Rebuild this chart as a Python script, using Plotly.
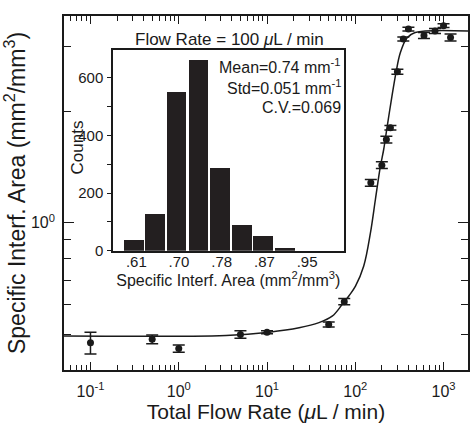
import plotly.graph_objects as go

# ---------------- data: main plot ----------------
flow_rate = [0.1, 0.5, 1, 5, 10, 50, 75, 150, 200, 225, 250, 300, 350, 400, 600, 800, 1000, 1200]
area = [0.474, 0.484, 0.457, 0.499, 0.506, 0.531, 0.612, 1.282, 1.431, 1.679, 1.806,
        2.56, 3.14, 3.34, 3.21, 3.30, 3.41, 3.17]
area_err = [0.032, 0.013, 0.010, 0.012, 0.005, 0.008, 0.012, 0.027, 0.030, 0.035, 0.025,
            0.04, 0.04, 0.04, 0.06, 0.05, 0.04, 0.07]

# fitted curve
fit_x = [0.05, 3.43, 10.6, 23.1, 38.8, 54.7, 71.0, 84.5, 100.5, 124.7, 148.5, 169, 192.4,
         209.8, 228.6, 260.3, 288.6, 323.6, 384.4, 478, 1900]
fit_y = [0.494, 0.496, 0.506, 0.520, 0.537, 0.559, 0.601, 0.634, 0.674, 0.764, 0.939, 1.156,
         1.42, 1.578, 1.806, 2.20, 2.54, 2.88, 3.16, 3.27, 3.30]

# ---------------- data: inset histogram ----------------
bin_centers = [0.605, 0.648, 0.690, 0.734, 0.777, 0.820, 0.862, 0.906]
counts = [37, 127, 552, 661, 287, 88, 50, 8]
inset_tickvals = [0.61, 0.695, 0.78, 0.865, 0.95]
inset_ticktext = [".61", ".70", ".78", ".87", ".95"]

FONT = "Liberation Sans, Arial, Helvetica, sans-serif"
BLACK = "#1a1a1a"

fig = go.Figure()

fig.add_trace(go.Scatter(
    x=fit_x, y=fit_y, mode="lines", line=dict(color=BLACK, width=1.5, shape="spline", smoothing=1.0),
    showlegend=False, hoverinfo="skip", xaxis="x", yaxis="y"))

fig.add_trace(go.Scatter(
    x=flow_rate, y=area, mode="markers",
    marker=dict(color=BLACK, size=7, symbol="circle"),
    error_y=dict(type="data", array=area_err, color=BLACK, thickness=1.5, width=6),
    showlegend=False, xaxis="x", yaxis="y"))

fig.add_trace(go.Bar(
    x=bin_centers, y=counts, width=0.0395, marker=dict(color="#231f20", line=dict(width=0)),
    showlegend=False, xaxis="x2", yaxis="y2"))

# minor tick positions
x_minor = [m * 10 ** e for e in range(-2, 4) for m in range(2, 10) if 0.05 <= m * 10 ** e <= 1900]
y_minor = [0.5, 0.6, 0.7, 0.8, 0.9, 2, 3]

fig.update_layout(
    width=471, height=425,
    margin=dict(l=64, r=1, t=16, b=55),
    paper_bgcolor="white", plot_bgcolor="white",
    font=dict(family=FONT, color=BLACK, size=16),
    bargap=0,
    xaxis=dict(
        type="log", range=[-1.30, 3.277], domain=[0, 1],
        showline=True, linecolor=BLACK, linewidth=1.6, mirror="ticks",
        ticks="inside", ticklen=8, tickwidth=1.2, tickcolor=BLACK,
        tickvals=[0.1, 1, 10, 100, 1000],
        ticktext=["10<sup>-1</sup>", "10<sup>0</sup>", "10<sup>1</sup>", "10<sup>2</sup>", "10<sup>3</sup>"],
        tickfont=dict(size=16), ticklabelstandoff=6,
        minor=dict(tickvals=x_minor, ticks="inside", ticklen=5, tickwidth=1.2, tickcolor=BLACK),
        showgrid=False, zeroline=False,
        title=dict(text="Total Flow Rate (<i>μ</i>L / min)", font=dict(size=21), standoff=5),
    ),
    yaxis=dict(
        type="log", range=[-0.398, 0.559], domain=[0, 1],
        showline=True, linecolor=BLACK, linewidth=1.6, mirror="ticks",
        ticks="inside", ticklen=10, tickwidth=1.2, tickcolor=BLACK,
        tickvals=[1], ticktext=["10<sup>0</sup>"], tickfont=dict(size=16), ticklabelstandoff=4,
        minor=dict(tickvals=y_minor, ticks="inside", ticklen=7, tickwidth=1.2, tickcolor=BLACK),
        showgrid=False, zeroline=False,
        title=dict(text="Specific Interf. Area (mm<sup>2</sup>/mm<sup>3</sup>)", font=dict(size=23), standoff=1),
    ),
    xaxis2=dict(
        anchor="y2", domain=[0.1214, 0.692], range=[0.5636, 1.0227],
        showline=True, linecolor=BLACK, linewidth=1.6, mirror=True,
        ticks="", tickvals=inset_tickvals, ticktext=inset_ticktext,
        tickfont=dict(size=15), ticklabelstandoff=-4,
        showgrid=False, zeroline=False,
        title=dict(text="Specific Interf. Area (mm<sup>2</sup>/mm<sup>3</sup>)", font=dict(size=16), standoff=0),
    ),
    yaxis2=dict(
        anchor="x2", domain=[0.337, 0.904], range=[0, 696],
        showline=True, linecolor=BLACK, linewidth=1.6, mirror=True,
        ticks="outside", ticklen=4, tickwidth=1.2, tickcolor=BLACK,
        tickvals=[0, 200, 400, 600], tickfont=dict(size=15), ticklabelstandoff=1,
        minor=dict(tickvals=[100, 300, 500], ticks="outside", ticklen=4, tickwidth=1.2, tickcolor=BLACK),
        showgrid=False, zeroline=False,
    ),
    annotations=[
        dict(text="Counts", x=(77.5 - 64) / 406, y=(370 - 147) / 354, xref="paper", yref="paper",
             showarrow=False, font=dict(size=17), textangle=-90, xanchor="center", yanchor="middle"),
        dict(text="Flow Rate = 100 <i>μ</i>L / min", x=0.409, y=0.935, xref="paper", yref="paper",
             showarrow=False, font=dict(size=17), xanchor="center", yanchor="middle"),
        dict(text="Mean=0.74 mm<sup>-1</sup>", x=0.69, y=0.86, xref="paper", yref="paper",
             showarrow=False, font=dict(size=16), xanchor="right", yanchor="middle"),
        dict(text="Std=0.051 mm<sup>-1</sup>", x=0.69, y=0.800, xref="paper", yref="paper",
             showarrow=False, font=dict(size=16), xanchor="right", yanchor="middle"),
        dict(text="C.V.=0.069", x=0.69, y=0.742, xref="paper", yref="paper",
             showarrow=False, font=dict(size=16), xanchor="right", yanchor="middle"),
    ],
)

fig.write_html("out.html", config={"displayModeBar": False},
               post_script="document.body.style.margin='0';document.body.style.overflow='hidden';")
